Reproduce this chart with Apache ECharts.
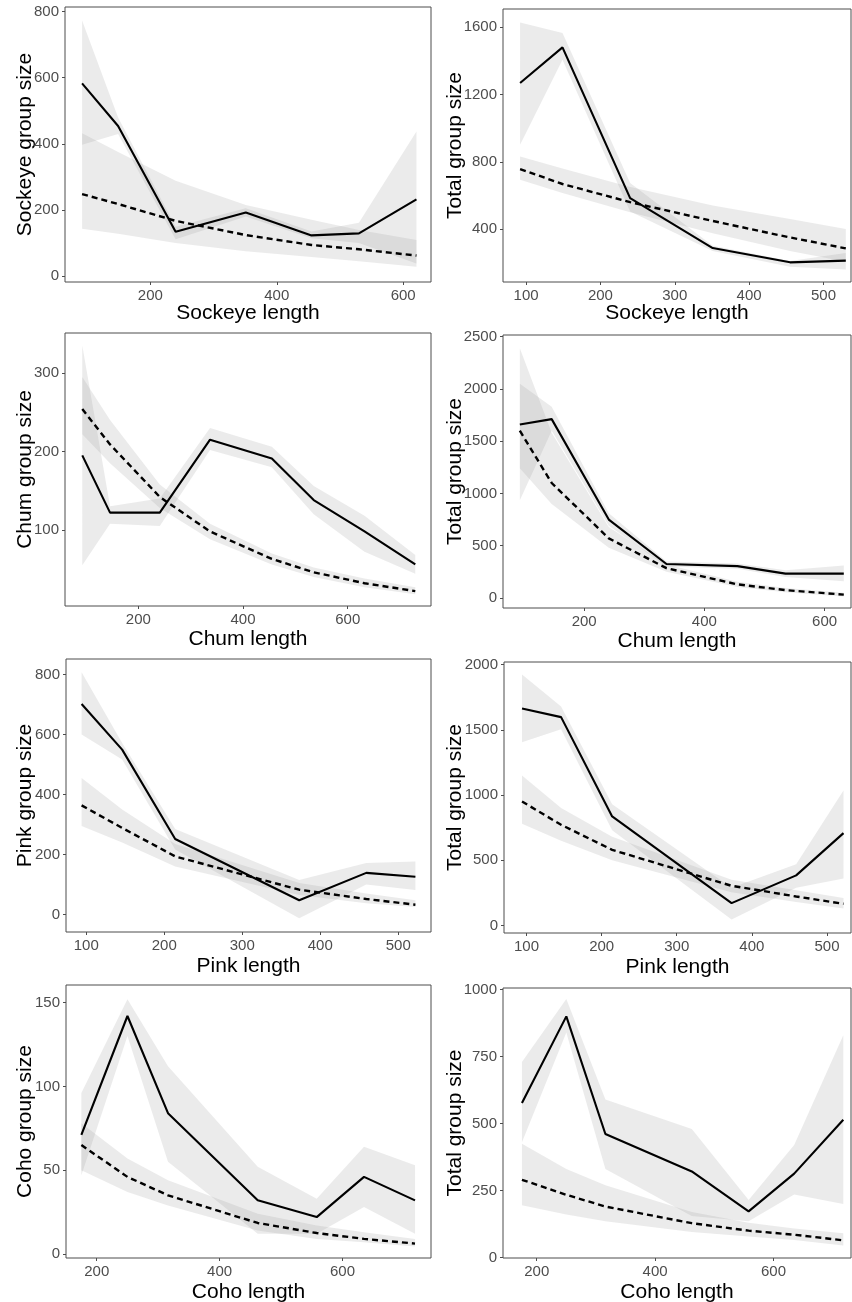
<!DOCTYPE html>
<html>
<head>
<meta charset="utf-8">
<script src="https://cdn.jsdelivr.net/npm/echarts@6/dist/echarts.min.js"></script>
<style>
  html, body { margin: 0; padding: 0; background: #fff; }
  #chart { width: 852px; height: 1302px; }
</style>
</head>
<body>
<div id="chart"></div>
<script>
// fish length bins (x) for each species
const sockeyeLen = [92, 149, 240, 351, 455, 530, 621]
const chumLen = [93, 146, 241, 337, 455, 535, 632, 729]
const pinkLen = [94, 146, 214, 373, 459, 522]
const cohoLen = [175, 250, 316, 462, 558, 635, 718]

// sockeye group size: observed (solid) and fitted (dashed), with ribbons
const sockeyeObs = [583, 454, 134, 192, 123, 129, 232]
const sockeyeObsLo = [397, 430, 111, 180, 114, 100, 38]
const sockeyeObsHi = [773, 480, 149, 205, 135, 161, 437]
const sockeyeFit = [248, 218, 167, 124, 94, 81, 62]
const sockeyeFitLo = [143, 128, 100, 75, 58, 45, 28]
const sockeyeFitHi = [432, 375, 288, 215, 170, 139, 109]

// total group size vs sockeye length
const totSockeyeObs = [1269, 1481, 584, 287, 202, 212]
const totSockeyeObsLo = [902, 1407, 505, 270, 175, 160]
const totSockeyeObsHi = [1629, 1566, 674, 300, 210, 257]
const totSockeyeFit = [757, 668, 560, 448, 350, 285]
const totSockeyeFitLo = [693, 615, 500, 375, 270, 205]
const totSockeyeFitHi = [832, 760, 650, 540, 460, 400]

// chum group size
const chumObs = [195, 122, 122, 215, 191, 138, 98, 56]
const chumObsLo = [55, 108, 105, 202, 180, 120, 72, 44]
const chumObsHi = [335, 130, 140, 230, 206, 156, 118, 68]
const chumFit = [254, 209, 142, 98, 63, 46, 32, 22]
const chumFitLo = [222, 185, 128, 88, 56, 40, 27, 18]
const chumFitHi = [295, 240, 158, 108, 70, 52, 38, 27]

// total group size vs chum length
const totChumObs = [1660, 1711, 750, 325, 305, 233, 233]
const totChumObsLo = [935, 1600, 690, 300, 280, 200, 160]
const totChumObsHi = [2050, 1830, 810, 350, 330, 265, 310]
const totChumFit = [1600, 1100, 570, 285, 130, 75, 32]
const totChumFitLo = [1240, 900, 480, 250, 105, 55, 15]
const totChumFitHi = [2390, 1580, 680, 320, 155, 95, 50]

// pink group size
const pinkObs = [702, 550, 252, 48, 139, 126]
const pinkObsLo = [600, 517, 217, -12, 100, 82]
const pinkObsHi = [808, 572, 285, 115, 172, 177]
const pinkFit = [364, 289, 194, 83, 52, 33]
const pinkFitLo = [295, 240, 160, 65, 38, 25]
const pinkFitHi = [455, 350, 235, 105, 70, 48]

// total group size vs pink length
const totPinkObs = [1665, 1598, 836, 171, 384, 708]
const totPinkObsLo = [1405, 1506, 730, 45, 290, 360]
const totPinkObsHi = [1925, 1680, 930, 290, 470, 1035]
const totPinkFit = [951, 772, 580, 304, 222, 166]
const totPinkFitLo = [780, 650, 500, 255, 180, 130]
const totPinkFitHi = [1150, 900, 680, 350, 270, 210]

// coho group size
const cohoObs = [71, 142, 84, 32, 22, 46, 32]
const cohoObsLo = [47, 130, 55, 12, 12, 28, 12]
const cohoObsHi = [96, 152, 112, 52, 33, 64, 53]
const cohoFit = [65, 46, 35, 18.5, 12.5, 9, 6.2]
const cohoFitLo = [50, 37, 29, 14, 9, 7, 4.5]
const cohoFitHi = [78, 57, 44, 24, 17, 13, 9]

// total group size vs coho length
const totCohoObs = [577, 900, 461, 321, 172, 313, 514]
const totCohoObsLo = [430, 840, 330, 155, 135, 235, 200]
const totCohoObsHi = [730, 965, 590, 480, 215, 420, 830]
const totCohoFit = [290, 234, 190, 128, 100, 85, 64]
const totCohoFitLo = [195, 160, 135, 95, 78, 65, 45]
const totCohoFitHi = [425, 330, 270, 170, 130, 108, 90]

// tick labels
const ticksLen100 = [100, 200, 300, 400, 500]
const ticksLen200 = [200, 400, 600]
const ticksSockeye = [0, 200, 400, 600, 800]
const ticksTotSockeye = [400, 800, 1200, 1600]
const ticksChum = [100, 200, 300]
const ticksTotChum = [0, 500, 1000, 1500, 2000, 2500]
const ticksPink = [0, 200, 400, 600, 800]
const ticksTotPink = [0, 500, 1000, 1500, 2000]
const ticksCoho = [0, 50, 100, 150]
const ticksTotCoho = [0, 250, 500, 750, 1000]

const panels = [
  { len: sockeyeLen, obs: [sockeyeObs, sockeyeObsLo, sockeyeObsHi], fit: [sockeyeFit, sockeyeFitLo, sockeyeFitHi],
    xName: 'Sockeye length', yName: 'Sockeye group size', xTicks: ticksLen200, yTicks: ticksSockeye,
    box: [65, 7, 366, 275], xr: [65, 644], yr: [-18, 814], xGap: 21, yGap: 29 },
  { len: sockeyeLen.slice(0, 6), obs: [totSockeyeObs, totSockeyeObsLo, totSockeyeObsHi], fit: [totSockeyeFit, totSockeyeFitLo, totSockeyeFitHi],
    xName: 'Sockeye length', yName: 'Total group size', xTicks: ticksLen100, yTicks: ticksTotSockeye,
    box: [503, 9, 348, 273], xr: [69, 537], yr: [85, 1709], xGap: 21, yGap: 37 },
  { len: chumLen, obs: [chumObs, chumObsLo, chumObsHi], fit: [chumFit, chumFitLo, chumFitHi],
    xName: 'Chum length', yName: 'Chum group size', xTicks: ticksLen200, yTicks: ticksChum,
    box: [65, 333, 366, 273], xr: [60, 759], yr: [3, 351], xGap: 23, yGap: 29 },
  { len: chumLen.slice(0, 7), obs: [totChumObs, totChumObsLo, totChumObsHi], fit: [totChumFit, totChumFitLo, totChumFitHi],
    xName: 'Chum length', yName: 'Total group size', xTicks: ticksLen200, yTicks: ticksTotChum,
    box: [503, 335, 348, 273], xr: [65, 644], yr: [-96, 2516], xGap: 23, yGap: 37 },
  { len: pinkLen, obs: [pinkObs, pinkObsLo, pinkObsHi], fit: [pinkFit, pinkFitLo, pinkFitHi],
    xName: 'Pink length', yName: 'Pink group size', xTicks: ticksLen100, yTicks: ticksPink,
    box: [66, 659, 365, 273], xr: [74, 542], yr: [-58, 852], xGap: 24, yGap: 30 },
  { len: pinkLen, obs: [totPinkObs, totPinkObsLo, totPinkObsHi], fit: [totPinkFit, totPinkFitLo, totPinkFitHi],
    xName: 'Pink length', yName: 'Total group size', xTicks: ticksLen100, yTicks: ticksTotPink,
    box: [504, 662, 347, 271], xr: [70, 532], yr: [-58, 2021], xGap: 24, yGap: 38 },
  { len: cohoLen, obs: [cohoObs, cohoObsLo, cohoObsHi], fit: [cohoFit, cohoFitLo, cohoFitHi],
    xName: 'Coho length', yName: 'Coho group size', xTicks: ticksLen200, yTicks: ticksCoho,
    box: [66, 985, 365, 273], xr: [150, 744], yr: [-2.4, 160.5], xGap: 24, yGap: 30 },
  { len: cohoLen, obs: [totCohoObs, totCohoObsLo, totCohoObsHi], fit: [totCohoFit, totCohoFitLo, totCohoFitHi],
    xName: 'Coho length', yName: 'Total group size', xTicks: ticksLen200, yTicks: ticksTotCoho,
    box: [503, 988, 348, 270], xr: [143, 731], yr: [-2, 1006], xGap: 24, yGap: 37 }
]

const font = 'Liberation Sans, Arial, sans-serif'
const chart = echarts.init(document.getElementById('chart'))

const grid = []
const xAxis = []
const yAxis = []
const series = []

function ribbon (i, len, lo, hi) {
  return {
    type: 'custom',
    xAxisIndex: i,
    yAxisIndex: i,
    silent: true,
    z: 1,
    data: len.map((x, k) => [x, lo[k], hi[k]]),
    encode: { x: 0, y: [1, 2] },
    renderItem: (params, api) => {
      if (params.dataIndex !== 0) return null
      const pts = []
      for (let k = 0; k < len.length; k++) pts.push(api.coord([len[k], hi[k]]))
      for (let k = len.length - 1; k >= 0; k--) pts.push(api.coord([len[k], lo[k]]))
      return {
        type: 'polygon',
        shape: { points: pts },
        style: { fill: 'rgba(153,153,153,0.2)' }
      }
    }
  }
}

function line (i, len, vals, dashed) {
  return {
    type: 'line',
    xAxisIndex: i,
    yAxisIndex: i,
    silent: true,
    z: 3,
    symbol: 'none',
    data: len.map((x, k) => [x, vals[k]]),
    lineStyle: { color: '#000', width: dashed ? 2.4 : 2.1, type: dashed ? [6, 4] : 'solid' }
  }
}

function axis (i, range, name, gap, ticks) {
  return {
    gridIndex: i, type: 'value', min: range[0], max: range[1],
    name: name, nameLocation: 'middle', nameGap: gap, nameMoveOverlap: false,
    nameTextStyle: { fontSize: 21, color: '#000', fontFamily: font },
    axisLine: { show: false, onZero: false },
    axisTick: { show: true, length: 3, lineStyle: { color: '#4d4d4d' }, customValues: ticks },
    axisLabel: {
      fontSize: 15, color: '#4d4d4d', fontFamily: font, margin: 6,
      customValues: ticks, formatter: v => String(v)
    },
    splitLine: { show: false }
  }
}

panels.forEach((p, i) => {
  grid.push({
    left: p.box[0], top: p.box[1], width: p.box[2], height: p.box[3],
    show: true, borderColor: '#4d4d4d', borderWidth: 1, outerBoundsMode: 'none'
  })
  xAxis.push(axis(i, p.xr, p.xName, p.xGap, p.xTicks))
  yAxis.push(axis(i, p.yr, p.yName, p.yGap, p.yTicks))
  series.push(ribbon(i, p.len, p.obs[1], p.obs[2]))
  series.push(ribbon(i, p.len, p.fit[1], p.fit[2]))
  series.push(line(i, p.len, p.obs[0], false))
  series.push(line(i, p.len, p.fit[0], true))
})

chart.setOption({
  animation: false,
  backgroundColor: '#fff',
  grid: grid,
  xAxis: xAxis,
  yAxis: yAxis,
  series: series
})
</script>
</body>
</html>
